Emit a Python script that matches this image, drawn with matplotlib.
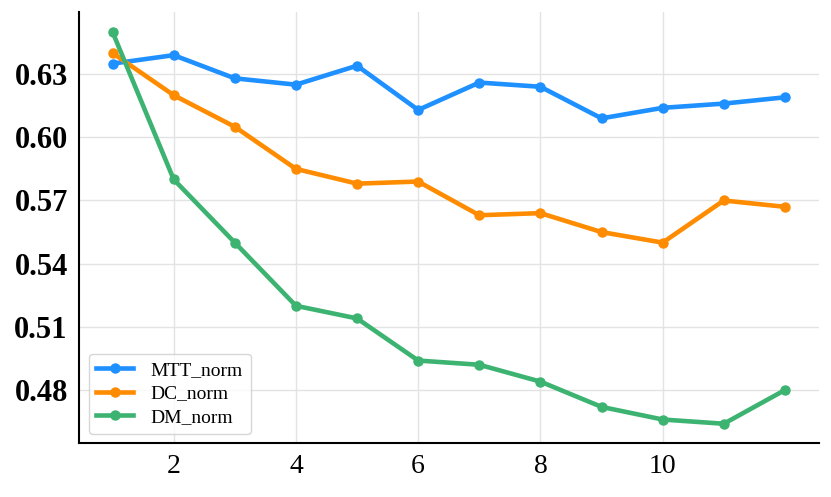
import matplotlib
matplotlib.use("Agg")
import matplotlib.pyplot as plt

# values
steps = list(range(1, 13))
mtt_norm = [0.635, 0.639, 0.628, 0.625, 0.634, 0.613, 0.626, 0.624, 0.609, 0.614, 0.616, 0.619]
dc_norm  = [0.640, 0.620, 0.605, 0.585, 0.578, 0.579, 0.563, 0.564, 0.555, 0.550, 0.570, 0.567]
dm_norm  = [0.650, 0.580, 0.550, 0.520, 0.514, 0.494, 0.492, 0.484, 0.472, 0.466, 0.464, 0.480]

series = [
    ("MTT_norm", mtt_norm, "#1E90FF"),
    ("DC_norm",  dc_norm,  "#FF8C00"),
    ("DM_norm",  dm_norm,  "#3CB371"),
]

plt.rcParams["font.family"] = ["Liberation Serif", "DejaVu Serif"]

fig, ax = plt.subplots(figsize=(8.31, 4.97), dpi=100)
for name, vals, col in series:
    ax.plot(steps, vals, color=col, lw=3.3, marker="o", ms=6.5, label=name)

ax.set_xticks([2, 4, 6, 8, 10])
ax.set_yticks([0.48, 0.51, 0.54, 0.57, 0.60, 0.63])
ax.set_yticklabels([f"{v:.2f}" for v in ax.get_yticks()], fontweight="bold", fontsize=22)
ax.tick_params(axis="x", labelsize=20, length=0, pad=8)
ax.tick_params(axis="y", length=0, pad=8)
ax.grid(True, color="#e3e3e3", lw=1)
ax.set_axisbelow(True)

for s in ["top", "right"]:
    ax.spines[s].set_visible(False)
for s in ["left", "bottom"]:
    ax.spines[s].set_linewidth(1.5)

ax.legend(loc="lower left", fontsize=14, handlelength=1.9, borderpad=0.4,
          labelspacing=0.3, handletextpad=0.9, bbox_to_anchor=(0.0, 0.0))

fig.subplots_adjust(left=0.095, right=0.985, top=0.975, bottom=0.108)
fig.savefig("out.png", dpi=100)
